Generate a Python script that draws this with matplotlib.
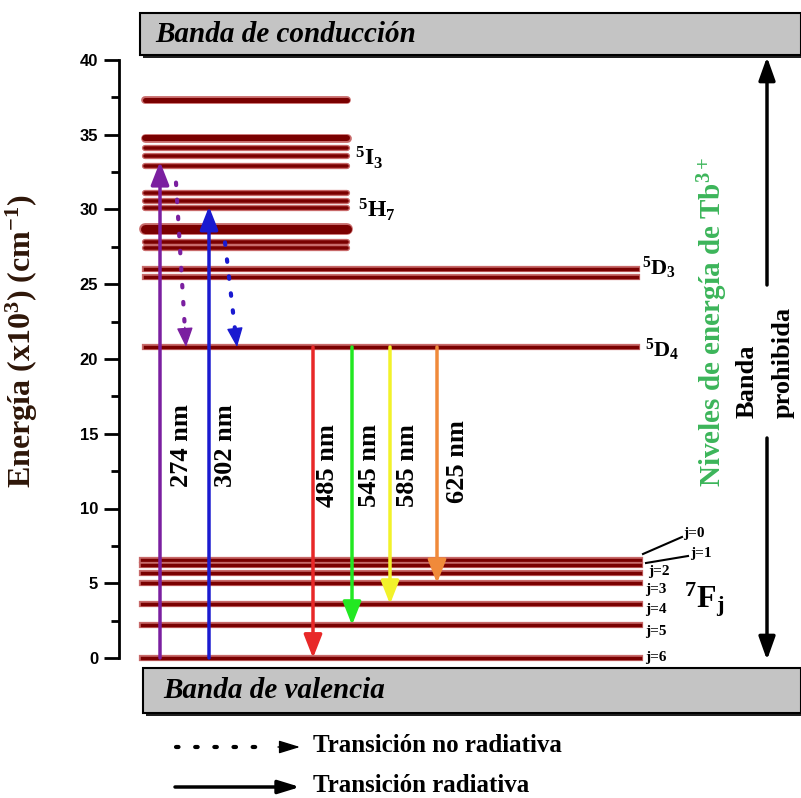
import numpy as np
import matplotlib.pyplot as plt
import matplotlib.patheffects as pe
from matplotlib.patches import Rectangle

plt.rcParams['mathtext.fontset'] = 'custom'
plt.rcParams['mathtext.rm'] = 'Liberation Serif:bold'
plt.rcParams['mathtext.it'] = 'Liberation Serif:bold:italic'
plt.rcParams['mathtext.bf'] = 'Liberation Serif:bold'

# niveles de energia (x10^3 cm^-1)
niveles_altos = [37.3, 34.8, 34.1, 33.6, 32.9, 31.1, 30.6, 30.1, 28.7, 27.8, 27.4]
grosor_altos = [5, 6, 3.5, 3.5, 3.5, 3.5, 3.5, 3.5, 9, 3.5, 3.5]
niveles_D3 = [26.0, 25.5]
nivel_D4 = 20.8
niveles_F = [6.55, 6.2, 5.7, 5.0, 3.6, 2.2, 0.0]
etiquetas_F = ['j=0', 'j=1', 'j=2', 'j=3', 'j=4', 'j=5', 'j=6']

# transiciones radiativas
longitudes = ['274 nm', '302 nm', '485 nm', '545 nm', '585 nm', '625 nm']
e_inicio = [0.0, 0.0, 20.8, 20.8, 20.8, 20.8]
e_final = [33.2, 30.2, 0.0, 2.2, 3.6, 5.0]
colores = ['#7b1fa0', '#1a1ad0', '#e82828', '#22e822', '#f2f22a', '#f08a3a']

# transiciones no radiativas (relajacion hasta 5D4)
nr_inicio = [31.8, 27.8]
nr_final = [20.8, 20.8]
nr_colores = ['#7b1fa0', '#1a1ad0']

# pixel -> energia (solo para ubicar cosas)
def E(ypx):
    return (658 - ypx) / 14.95

fig = plt.figure(figsize=(8.01, 7.98), dpi=100)
ax = fig.add_axes([0, 0, 1, 1])
ax.set_xlim(0, 801)
ax.set_ylim(E(798), E(0))

for s in ['top', 'right', 'bottom']:
    ax.spines[s].set_visible(False)
ax.spines['left'].set_position(('data', 119))
ax.spines['left'].set_bounds(0, 40)
ax.spines['left'].set_linewidth(2)
ax.set_xticks([])
ax.set_yticks(np.arange(0, 41, 5))
ax.set_yticks(np.arange(0, 41, 2.5), minor=True)
ax.tick_params(axis='y', which='major', direction='out', length=11, width=2, pad=4)
ax.tick_params(axis='y', which='minor', direction='out', length=6, width=2)
for lab in ax.get_yticklabels():
    lab.set_fontfamily('Liberation Sans')
    lab.set_fontweight('bold')
    lab.set_fontsize(12)

ax.set_ylabel('Energía (x10$^3$) (cm$^{-1}$)', fontsize=23, fontweight='bold',
              family='Liberation Serif', color='#2e1608')
ax.yaxis.set_label_coords(40 / 801, 1 - 341 / 798)

halo = lambda w: [pe.Stroke(linewidth=w + 2, foreground='#c86a6a'), pe.Normal()]
rojo = '#7a0000'

# niveles
for e, w in zip(niveles_altos, grosor_altos):
    ax.plot([145, 347], [e, e], color=rojo, lw=w * 0.72, solid_capstyle='round',
            path_effects=halo(w * 0.72))
for e in niveles_D3:
    ax.plot([145, 637], [e, e], color=rojo, lw=2.5, path_effects=halo(2.5))
ax.plot([145, 637], [nivel_D4, nivel_D4], color=rojo, lw=2.5, path_effects=halo(2.5))
for e in niveles_F:
    ax.plot([142, 640], [e, e], color=rojo, lw=2.5, path_effects=halo(2.5))

# transiciones
xs = [160, 209, 313, 352, 390, 437]
for x, a, b, c in zip(xs, e_inicio, e_final, colores):
    ax.annotate('', xy=(x, b), xytext=(x, a),
                arrowprops=dict(arrowstyle='-|>,head_length=1.4,head_width=0.55',
                                color=c, lw=2.5, shrinkA=0, shrinkB=0))
xt = [182, 226, 327, 370, 408, 457]
yt = [446, 446, 466, 466, 466, 462]
for x, y, t in zip(xt, yt, longitudes):
    ax.text(x, E(y), t, rotation=90, ha='center', va='center', fontsize=19,
            fontweight='bold', family='Liberation Serif')

# no radiativas
for (x0, x1), a, b, c in zip([(176, 186), (225, 237)], nr_inicio, nr_final, nr_colores):
    frac = 0.88
    xm = x0 + (x1 - x0) * frac
    em = a + (b - a) * frac
    ax.plot([x0, xm], [a, em], color=c, lw=3, ls=(0, (0.6, 3.5)), dash_capstyle='round')
    ax.annotate('', xy=(x1, b), xytext=(xm, em),
                arrowprops=dict(arrowstyle='-|>,head_length=1.2,head_width=0.5',
                                color=c, lw=1, shrinkA=0, shrinkB=0))

# etiquetas de niveles
ax.text(355, E(158), r'$^5\mathrm{I}_3$', fontsize=17, va='center')
ax.text(358, E(210), r'$^5\mathrm{H}_7$', fontsize=17, va='center')
ax.text(642, E(268), r'$^5\mathrm{D}_3$', fontsize=16, va='center')
ax.text(645, E(350), r'$^5\mathrm{D}_4$', fontsize=16, va='center')

jy = [533, 553, 572, 590, 610, 632, 657]
jx = [683, 690, 648, 645, 645, 645, 645]
for x, y, t in zip(jx, jy, etiquetas_F):
    ax.text(x, E(y), t, fontsize=11, fontweight='bold', family='Liberation Serif',
            va='center')
ax.plot([643, 682], [E(554), E(537)], color='black', lw=1.5)
ax.plot([646, 688], [E(563), E(556)], color='black', lw=1.5)
ax.text(684, E(600), r'$^7\mathrm{F}_\mathrm{j}$', fontsize=23, va='center')

# texto vertical derecho
ax.text(713, E(487), 'Niveles de energía de Tb$^{3+}$', rotation=90, ha='center',
        va='bottom', fontsize=21, fontweight='bold', family='Liberation Serif',
        color='#3cb55a')
ax.text(747, E(418), 'Banda', rotation=90, ha='center', va='bottom', fontsize=19,
        fontweight='bold', family='Liberation Serif')
ax.text(783, E(418), 'prohibida', rotation=90, ha='center', va='bottom', fontsize=19,
        fontweight='bold', family='Liberation Serif')
ax.annotate('', xy=(767, E(57)), xytext=(767, E(285)),
            arrowprops=dict(arrowstyle='-|>,head_length=1.4,head_width=0.5',
                            color='black', lw=2.5, shrinkA=0, shrinkB=0))
ax.annotate('', xy=(767, E(660)), xytext=(767, E(438)),
            arrowprops=dict(arrowstyle='-|>,head_length=1.4,head_width=0.5',
                            color='black', lw=2.5, shrinkA=0, shrinkB=0))

# bandas
for x0, y0, y1, txt, tx in [(140, 13, 55, 'Banda de conducción', 155),
                             (143, 668, 713, 'Banda de valencia', 163)]:
    ax.add_patch(Rectangle((x0 + 3, E(y1 + 3)), 801 - x0, E(y0) - E(y1),
                           facecolor='#202020', edgecolor='none', clip_on=False))
    ax.add_patch(Rectangle((x0, E(y1)), 801 - x0, E(y0) - E(y1),
                           facecolor='#c4c4c4', edgecolor='black', lw=1.5, clip_on=False))
    ax.text(tx, E((y0 + y1) / 2), txt, fontsize=21, fontweight='bold', style='italic',
            family='Liberation Serif', va='center')

# leyenda
ax.plot([176, 270], [E(747), E(747)], color='black', lw=3, ls=(0, (0.6, 4)),
        dash_capstyle='round')
ax.annotate('', xy=(300, E(747)), xytext=(278, E(747)),
            arrowprops=dict(arrowstyle='-|>,head_length=1.3,head_width=0.4',
                            color='black', lw=1, shrinkA=0, shrinkB=0))
ax.text(313, E(746), 'Transición no radiativa', fontsize=18, fontweight='bold',
        family='Liberation Serif', va='center')
ax.annotate('', xy=(300, E(787)), xytext=(175, E(787)),
            arrowprops=dict(arrowstyle='-|>,head_length=1.3,head_width=0.4',
                            color='black', lw=2.5, shrinkA=0, shrinkB=0))
ax.text(313, E(785), 'Transición radiativa', fontsize=18, fontweight='bold',
        family='Liberation Serif', va='center')

fig.savefig('out.png', dpi=100)
